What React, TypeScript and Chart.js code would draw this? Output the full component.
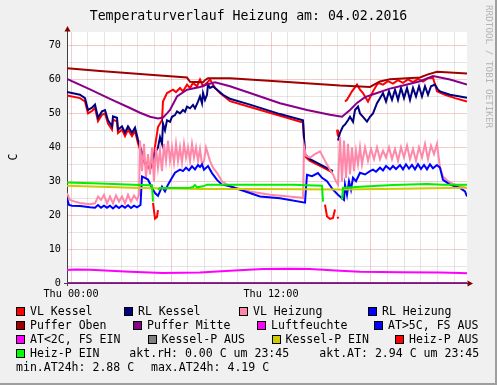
import React, { useEffect, useRef } from 'react';
import { Chart, registerables } from 'chart.js';
Chart.register(...registerables);

const MONO = '"DejaVu Sans Mono", monospace';

const TITLE = 'Temperaturverlauf Heizung am: 04.02.2016';
const Y_LABEL = 'C';
const WATERMARK = 'RRDTOOL / TOBI OETIKER';
const xTickHours = [0, 12];
const xTickLabels = ['Thu 00:00', 'Thu 12:00'];
const yTickValues = [0, 10, 20, 30, 40, 50, 60, 70];

// [hour of day, value]
const vlKessel = [[-0.24,55.3],[0.54,54.5],[0.84,53.5],[1.02,50],[1.26,50.7],[1.44,51.6],[1.62,47.7],[1.86,49.6],[2.04,50],[2.22,47],[2.46,45.2],[2.52,48.1],[2.76,47.7],[2.82,44.2],[3.06,45.2],[3.24,43.3],[3.42,45.2],[3.66,43.3],[3.84,44.8],[4.02,41.2],[4.14,39.3],[4.44,35],[4.74,33.5],[4.92,35],[5.04,40.3],[5.22,46],[5.46,48],[5.52,53.5],[5.76,56],[5.94,56.5],[6.12,57],[6.30,56.3],[6.54,57.5],[6.72,56.5],[6.96,58.5],[7.14,57.5],[7.32,59],[7.56,58],[7.74,60],[7.92,58],[8.16,59],[8.34,60],[8.52,58.5],[8.64,57.5],[8.94,56],[9.54,53.6],[10.74,51.9],[12.54,49.3],[13.92,47.3],[14.04,37.3],[14.34,36],[14.94,34.5],[15.54,33],[15.66,32.5],[15.8,null],[15.96,45.2],[16.02,43.2],[16.2,null],[16.44,53.5],[16.56,54],[16.86,56.5],[17.16,58.5],[17.34,57],[17.52,56],[17.82,53.5],[18.12,56.5],[18.42,59],[18.72,58.5],[19.02,59.5],[19.32,58.8],[19.62,59.8],[19.92,59],[20.22,60],[20.52,59.2],[20.82,60.2],[21.12,59.4],[21.42,60.4],[21.72,60.5],[21.96,56.5],[22.44,55.5],[23.04,54.5],[23.76,53.5]];

const rlKessel = [[-0.24,56.3],[0.54,55.5],[0.84,54.5],[1.02,51],[1.26,51.7],[1.44,52.6],[1.62,48.7],[1.86,50.6],[2.04,51],[2.22,48],[2.46,46.2],[2.52,49.1],[2.76,48.7],[2.82,45.2],[3.06,46.2],[3.24,44.3],[3.42,46.2],[3.66,44.3],[3.84,45.8],[4.02,42.2],[4.14,40.3],[4.44,35.8],[4.74,34],[4.86,36],[5.04,38.3],[5.22,40],[5.34,43],[5.46,41],[5.52,47],[5.64,45],[5.76,48],[5.94,47.5],[6.06,49],[6.24,49.5],[6.36,50.6],[6.54,50],[6.72,51],[6.84,50.5],[6.96,52],[7.14,51.5],[7.32,52.5],[7.44,51.5],[7.62,53.5],[7.74,55],[7.86,53],[7.92,56],[8.04,54],[8.16,55.5],[8.22,58.5],[8.34,57.5],[8.52,58],[8.76,57],[9.12,55.5],[9.54,54.3],[10.74,52.6],[12.54,49.8],[13.92,48],[14.04,38],[14.34,36.5],[14.94,35],[15.54,33.4],[15.72,33],[15.85,null],[16.02,42],[16.14,44.3],[16.32,46.2],[16.44,46.7],[16.62,48],[16.74,49],[16.92,47.5],[17.04,51],[17.22,52],[17.34,50],[17.52,49],[17.76,47.6],[17.94,49],[18.12,50],[18.36,53],[18.54,54.5],[18.72,56],[18.90,53.5],[19.08,56.5],[19.26,54],[19.44,57],[19.62,54],[19.80,57.5],[19.98,54.5],[20.16,57.5],[20.34,54],[20.52,57.5],[20.70,55],[20.88,58],[21.06,55],[21.24,58],[21.42,55.5],[21.60,58],[21.84,58.5],[22.02,57],[22.14,56.5],[22.74,55.5],[23.34,55],[23.76,54.6]];

const vlHeizung = [[-0.24,26.5],[-0.06,24.5],[0.24,24],[0.54,23.6],[1.14,23.2],[1.44,23.5],[1.62,25.5],[1.80,24.5],[1.98,26],[2.16,23.5],[2.34,25.5],[2.52,23.5],[2.70,25.8],[2.88,24],[3.06,25.5],[3.24,23.5],[3.42,26],[3.60,24],[3.78,25.8],[3.96,24.5],[4.08,26],[4.14,42],[4.26,33],[4.38,41],[4.50,31],[4.62,38],[4.74,32],[4.86,40],[4.98,30],[5.10,40],[5.22,34],[5.34,39],[5.46,33],[5.58,41],[5.70,36],[5.82,42],[5.94,36],[6.06,40],[6.18,35.5],[6.30,41],[6.42,36],[6.54,40],[6.66,35.5],[6.78,41],[6.90,37],[7.02,40],[7.14,36],[7.26,41],[7.38,37],[7.50,40],[7.62,36],[7.74,39.5],[7.86,35],[7.98,36],[8.10,40],[8.22,38],[8.34,36],[8.52,34],[8.76,32.5],[9.06,30],[9.36,29],[9.54,28.5],[10.74,27],[11.94,26],[13.74,25.2],[13.92,25],[13.98,40.3],[14.10,37.5],[14.34,37],[14.64,38],[14.94,38.8],[15.24,36],[15.54,33.4],[15.72,32],[15.90,30],[16.02,29],[16.14,43],[16.26,30],[16.38,42],[16.50,31],[16.62,41],[16.74,32],[16.86,40],[16.98,33],[17.10,39],[17.22,35],[17.34,40],[17.46,35],[17.64,40],[17.82,36],[18.00,39.5],[18.18,36.5],[18.36,40],[18.54,36.5],[18.72,39],[18.90,37],[19.08,40],[19.26,36.5],[19.44,39.5],[19.62,36],[19.80,40],[19.98,37],[20.16,40.5],[20.34,36.5],[20.52,39.5],[20.70,36],[20.88,40],[21.06,37],[21.24,41],[21.42,36.5],[21.60,40.5],[21.78,38],[21.96,41],[22.14,34],[22.32,31.4],[22.62,30],[22.92,29.2],[23.34,28.5],[23.76,28]];

const rlHeizung = [[-0.24,25],[-0.12,23],[0.06,22.8],[0.54,22.7],[1.14,22.3],[1.44,22.2],[1.62,23],[1.80,22.2],[1.98,22.8],[2.16,22.2],[2.34,22.8],[2.52,22],[2.70,22.8],[2.88,22.1],[3.06,22.8],[3.24,22.2],[3.42,22.9],[3.60,22.1],[3.78,22.8],[3.96,22.3],[4.17,23],[4.26,31.4],[4.44,31],[4.62,30.5],[4.86,28],[5.04,26.5],[5.22,25.7],[5.46,28.4],[5.64,27],[5.82,29],[6.06,31],[6.24,32.5],[6.54,33.4],[6.72,33],[6.90,34],[7.08,33.2],[7.26,34.4],[7.44,33.5],[7.62,34.8],[7.74,34.2],[7.86,35],[7.98,33.4],[8.22,34.5],[8.46,32.4],[8.76,30.4],[9.06,29],[9.54,28.5],[11.34,25.5],[12.54,25],[14.04,23.7],[14.16,31.9],[14.46,31.5],[14.82,32.4],[15.06,31],[15.36,30],[15.72,27.5],[16.02,26],[16.26,25],[16.38,24.5],[16.44,29],[16.56,26],[16.68,30],[16.80,27.5],[16.92,31],[17.10,30],[17.34,32.5],[17.64,32],[17.94,33],[18.12,33.4],[18.30,32.8],[18.54,34],[18.72,33.2],[18.90,34.5],[19.14,33.5],[19.32,34.5],[19.50,33.6],[19.74,34.8],[19.92,33.5],[20.10,35],[20.28,33.7],[20.46,34.8],[20.64,33.5],[20.82,35],[21.00,33.6],[21.18,34.8],[21.36,33.5],[21.54,35],[21.72,33.8],[21.96,34.8],[22.14,34],[22.32,30.4],[22.74,29],[23.34,28],[23.64,27],[23.76,25.5]];

const pufferOben = [[-0.24,63.3],[1.74,62.5],[4.74,61.4],[6.96,60.6],[7.14,59.3],[7.92,59.2],[8.04,59.8],[8.22,60.4],[9.54,60.4],[12.54,59.4],[16.14,58.2],[17.94,57.8],[18.24,58.6],[18.54,59.4],[19.14,60.1],[20.94,60.6],[21.42,61.5],[21.96,62.3],[23.76,61.8]];

const pufferMitte = [[-0.24,60.2],[1.14,57.1],[2.34,54.3],[3.54,51.6],[4.14,50.2],[4.74,49],[5.22,48.5],[5.52,48.8],[5.76,50],[5.94,51],[6.36,55],[6.96,57],[7.74,57.8],[8.16,58.5],[8.64,59.2],[9.54,58],[10.74,56],[12.54,53],[14.16,51],[15.54,49.6],[16.26,49],[16.74,51],[17.16,53.1],[17.64,54.8],[18.36,56],[19.14,57.3],[19.74,58],[20.94,59.5],[21.72,61],[22.74,60],[23.76,58.5]];

const luftfeuchte = [[-0.24,0],[23.76,0]];

const aussenTemp = [[-0.24,3.8],[0.24,4.0],[1.14,3.9],[2.34,3.6],[3.54,3.3],[5.52,2.95],[7.74,3.1],[9.54,3.6],[11.52,4.1],[13.14,4.19],[14.34,4.1],[16.14,3.6],[17.34,3.3],[19.74,3.2],[22.14,3.1],[23.34,2.95],[23.76,2.9]];

const kesselPEin = [[-0.24,28.7],[1.74,28.4],[4.14,28],[7.74,27.7],[11.34,27.7],[16.14,27.6],[19.74,27.8],[23.76,28.1]];

const heizPAus = [[4.92,23.6],[5.04,19],[5.16,19.5],[5.22,21.5],[5.5,null],[15.24,23.1],[15.36,19.6],[15.54,18.9],[15.72,19.2],[15.84,21.7],[15.9,null],[15.98,19.5],[16.05,19]];

const heizPEin = [[-0.24,29.6],[1.74,29.3],[4.14,28.9],[4.86,28.8],[4.92,24],[5.0,null],[5.22,27.5],[5.34,28],[7.14,28.1],[7.32,28.3],[7.44,28.9],[7.56,28.2],[7.92,28.5],[8.16,29],[11.34,29],[13.32,29],[15.06,28.7],[15.12,24],[15.5,null],[16.26,24.5],[16.32,28],[17.34,28.4],[19.32,28.9],[21.36,29.2],[22.32,29],[23.76,29]];

// drawn in rrdtool order (later ones on top)
const SERIES_NAMES = ['VL Kessel','RL Kessel','VL Heizung','RL Heizung','Puffer Oben','Puffer Mitte','Luftfeuchte','AT','Kessel-P EIN','Heiz-P AUS','Heiz-P EIN'];
const SERIES_DATA = [vlKessel, rlKessel, vlHeizung, rlHeizung, pufferOben, pufferMitte, luftfeuchte, aussenTemp, kesselPEin, heizPAus, heizPEin];
const SERIES_COLORS = ['#ff0000','#000080','#ff88aa','#0000ff','#a00000','#880088','#cc00cc','#ff00ff','#cccc00','#ff0000','#00ee00'];

const LEGEND_LABELS = ['VL Kessel','RL Kessel','VL Heizung','RL Heizung','Puffer Oben','Puffer Mitte','Luftfeuchte','AT>5C, FS AUS','AT<2C, FS EIN','Kessel-P AUS','Kessel-P EIN','Heiz-P AUS','Heiz-P EIN'];
const LEGEND_COLORS = ['#ff0000','#000080','#ff88aa','#0000ff','#a00000','#880088','#ff00ff','#0000ff','#ff00ff','#808080','#cccc00','#ff0000','#00ff00'];
const INFO_TEXTS = ['akt.rH: 0.00 C um 23:45','akt.AT: 2.94 C um 23:45','min.AT24h: 2.88 C','max.AT24h: 4.19 C'];

// layout positions (text x, row center y)
const LEGEND_POS = [[30,311.5],[138,311.5],[253,311.5],[382,311.5],[30,325.5],[147,325.5],[271,325.5],[388,325.5],[30,339.5],[161.5,339.5],[285.5,339.5],[409,339.5],[30,353.5]];
const INFO_POS = [[129.3,353.5],[319.3,353.5],[16,367.5],[151,367.5]];

const rrdPlugin = {
  id: 'rrdLook',
  beforeDraw(chart: any) {
    const { ctx, width, height, chartArea: a } = chart;
    ctx.save();
    ctx.fillStyle = '#f0f0f0';
    ctx.fillRect(0, 0, width, height);
    ctx.fillStyle = '#ffffff';
    ctx.fillRect(a.left, a.top, a.right - a.left, a.bottom - a.top);
    ctx.fillStyle = '#9e9e9e';
    ctx.fillRect(width - 2, 0, 2, height);
    ctx.fillRect(0, height - 2, width, 2);
    ctx.restore();
  },
  beforeDatasetsDraw(chart: any) {
    const { ctx, chartArea: a } = chart;
    ctx.save();
    ctx.strokeStyle = '#404040';
    ctx.lineWidth = 1;
    ctx.beginPath();
    ctx.moveTo(a.left + 0.5, a.bottom + 3);
    ctx.lineTo(a.left + 0.5, a.top - 3);
    ctx.moveTo(a.left - 3, a.bottom + 0.5);
    ctx.lineTo(a.right + 3, a.bottom + 0.5);
    ctx.stroke();
    ctx.restore();
  },
  afterDatasetsDraw(chart: any) {
    const { ctx, chartArea: a } = chart;
    ctx.save();
    ctx.fillStyle = '#7f0000';
    ctx.beginPath();
    ctx.moveTo(a.left + 0.5, a.top - 6);
    ctx.lineTo(a.left - 2.5, a.top - 0.5);
    ctx.lineTo(a.left + 3.5, a.top - 0.5);
    ctx.closePath();
    ctx.fill();
    ctx.beginPath();
    ctx.moveTo(a.right + 6, a.bottom + 0.5);
    ctx.lineTo(a.right + 0.5, a.bottom - 2.5);
    ctx.lineTo(a.right + 0.5, a.bottom + 3.5);
    ctx.closePath();
    ctx.fill();
    ctx.restore();
  },
  afterDraw(chart: any) {
    const { ctx, width } = chart;
    ctx.save();
    ctx.fillStyle = '#000';
    ctx.textBaseline = 'middle';
    ctx.textAlign = 'center';
    ctx.font = `13.2px ${MONO}`;
    ctx.fillText(TITLE, width / 2, 16.5);

    // y label
    ctx.save();
    ctx.font = `11.56px ${MONO}`;
    ctx.translate(14, 157);
    ctx.rotate(-Math.PI / 2);
    ctx.fillText(Y_LABEL, 0, 0);
    ctx.restore();

    // watermark
    ctx.save();
    ctx.fillStyle = '#b4b4b4';
    ctx.font = `9.3px ${MONO}`;
    ctx.textAlign = 'left';
    ctx.translate(488, 5);
    ctx.rotate(Math.PI / 2);
    ctx.fillText(WATERMARK, 0, 0);
    ctx.restore();

    // legend
    ctx.font = `11.56px ${MONO}`;
    ctx.textAlign = 'left';
    LEGEND_LABELS.forEach((lab, i) => {
      const [tx, ty] = LEGEND_POS[i];
      const bx = Math.round(tx - 14);
      const by = Math.round(ty - 4.5);
      ctx.fillStyle = '#000';
      ctx.fillRect(bx, by, 9, 9);
      ctx.fillStyle = LEGEND_COLORS[i];
      ctx.fillRect(bx + 1, by + 1, 7, 7);
      ctx.fillStyle = '#000';
      ctx.fillText(lab, tx, ty);
    });
    INFO_TEXTS.forEach((t, i) => {
      const [tx, ty] = INFO_POS[i];
      ctx.fillText(t, tx, ty);
    });
    ctx.restore();
  },
};

const MAJOR = 'rgba(230,120,120,0.38)';
const MINOR = 'rgba(150,150,150,0.25)';

export default function App() {
  const ref = useRef<HTMLCanvasElement | null>(null);
  useEffect(() => {
    const canvas = ref.current;
    if (!canvas) return;
    const n = SERIES_DATA.length;
    const chart = new Chart(canvas, {
      type: 'line',
      data: {
        datasets: SERIES_DATA.map((d, i) => ({
          label: SERIES_NAMES[i],
          data: d.map(([x, y]) => ({ x, y })),
          borderColor: SERIES_COLORS[i],
          backgroundColor: SERIES_COLORS[i],
          borderWidth: 2,
          pointRadius: 0,
          tension: 0,
          fill: false,
          spanGaps: false,
          order: n - i,
        })),
      },
      options: {
        animation: false,
        responsive: false,
        devicePixelRatio: 1,
        events: [],
        layout: { padding: { left: 0, right: 30, top: 32, bottom: 0 } },
        plugins: { legend: { display: false }, title: { display: false }, tooltip: { enabled: false } },
        scales: {
          x: {
            type: 'linear',
            min: -0.24,
            max: 23.76,
            afterBuildTicks: (s: any) => {
              const t = [];
              for (let h = 0; h <= 23; h++) t.push({ value: h });
              s.ticks = t;
            },
            afterFit: (s: any) => { s.height = 102; },
            grid: {
              color: (c: any) => (c.tick && c.tick.value % 6 === 0 ? MAJOR : MINOR),
              drawTicks: false,
              lineWidth: 1,
            },
            border: { display: false },
            ticks: {
              autoSkip: false,
              maxRotation: 0,
              padding: 5,
              color: '#000',
              font: { family: MONO, size: 10.2 },
              callback: (v: any) => {
                const k = xTickHours.indexOf(Number(v));
                return k >= 0 ? xTickLabels[k] : '';
              },
            },
          },
          y: {
            type: 'linear',
            min: 0,
            max: 74,
            afterBuildTicks: (s: any) => {
              const t = [];
              for (let v = 0; v <= 70; v += 5) t.push({ value: v });
              s.ticks = t;
            },
            afterFit: (s: any) => { s.width = 67; },
            grid: {
              color: (c: any) => (c.tick && c.tick.value % 10 === 0 ? MAJOR : MINOR),
              drawTicks: false,
              lineWidth: 1,
            },
            border: { display: false },
            ticks: {
              padding: 6,
              color: '#000',
              font: { family: MONO, size: 10.2 },
              callback: (v: any) => (yTickValues.indexOf(Number(v)) >= 0 ? String(v) : ''),
            },
          },
        },
      },
      plugins: [rrdPlugin],
    } as any);
    return () => chart.destroy();
  }, []);
  return (
    <div style={{ position: 'absolute', left: 0, top: 0, width: 497, height: 385 }}>
      <canvas ref={ref} width={497} height={385} style={{ width: 497, height: 385, display: 'block' }} />
    </div>
  );
}
